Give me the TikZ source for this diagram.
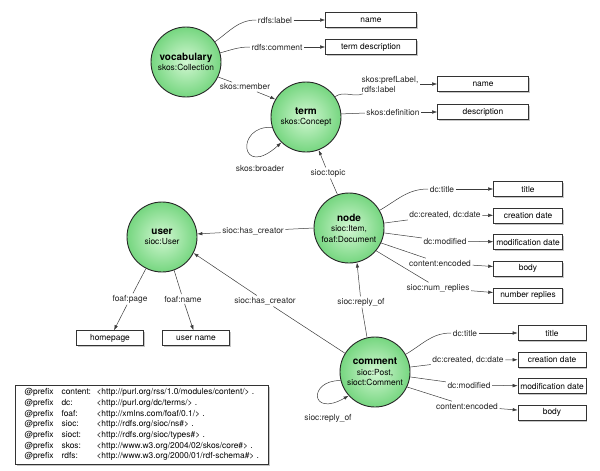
\documentclass[tikz,border=0pt]{standalone}
\usepackage{fontspec}
\setmainfont{TeX Gyre Heros}
\usetikzlibrary{positioning,arrows.meta,shadows}

\definecolor{classlight}{RGB}{210,247,210}
\definecolor{classgreen}{RGB}{118,214,128}
\definecolor{linkgray}{RGB}{60,60,60}

\begin{document}
\begin{tikzpicture}[x=1pt,y=1pt,
			font=\fontsize{8.4}{10}\selectfont,
			classnode/.style={circle, draw=black!85, line width=0.9pt, minimum size=70pt, inner sep=0pt, align=center,
				inner color=classlight, outer color=classgreen, font=\fontsize{8.4}{10.5}\selectfont},
			valnode/.style={rectangle, draw=black!80, fill=white, line width=0.6pt, minimum width=#1, minimum height=15pt,
				inner sep=1pt, drop shadow={shadow xshift=1.2pt, shadow yshift=-1.5pt, opacity=0.45}},
			valnode/.default=69pt,
			proplabel/.style={inner sep=1.5pt, text=black!85},
			link/.style={draw=linkgray, line width=0.5pt},
			arrowlink/.style={link, -{Latex[length=5pt,width=3.5pt]}},
			]
			\useasboundingbox (0,0) rectangle (600,-471);

			%Classes
			\node[classnode] (vocab)   at (186,-62)  {{\fontsize{10}{11}\selectfont\bfseries vocabulary}\\skos:Collection};
			\node[classnode] (term)    at (306,-117) {{\fontsize{10}{11}\selectfont\bfseries term}\\skos:Concept};
			\node[classnode] (item)    at (349,-228) {{\fontsize{10}{11}\selectfont\bfseries node}\\sioc:Item,\\foaf:Document};
			\node[classnode] (user)    at (162,-237) {{\fontsize{10}{11}\selectfont\bfseries user}\\sioc:User};
			\node[classnode] (comment) at (375,-372) {{\fontsize{10}{11}\selectfont\bfseries comment}\\sioc:Post,\\sioct:Comment};

			%Values
			\node[valnode=91pt] (vname) at (371,-20)  {name};
			\node[valnode=91pt] (vdesc) at (371,-47)  {term description};
			\node[valnode=91pt] (tname) at (483,-84)  {name};
			\node[valnode=91pt] (tdesc) at (483,-112) {description};

			\node[valnode] (ititle)    at (528,-189)          {title};
			\node[valnode] (icreated)  [below=11pt of ititle]   {creation date};
			\node[valnode] (imodified) [below=11pt of icreated] {modification date};
			\node[valnode] (ibody)     [below=11pt of imodified] {body};
			\node[valnode] (ireplies)  [below=11pt of ibody]    {number replies};

			\node[valnode=68pt] (ctitle)    at (552,-333)            {title};
			\node[valnode=68pt] (ccreated)  [below=11pt of ctitle]   {creation date};
			\node[valnode=68pt] (cmodified) [below=11pt of ccreated] {modification date};
			\node[valnode=68pt] (cbody)     [below=11pt of cmodified] {body};

			\node[valnode=67pt] (uhome) at (110,-338) {homepage};
			\node[valnode=67pt] (uname) at (196,-338) {user name};

			%Property labels
			\node[proplabel] (lvname)     at (275,-20)  {rdfs:label};
			\node[proplabel] (lvdesc)     at (277,-47)  {rdfs:comment};
			\node[proplabel] (lmember)    at (245,-87)  {skos:member};
			\node[proplabel, align=left] (ltname) at (390,-84) {skos:prefLabel,\\rdfs:label};
			\node[proplabel] (ltdesc)     at (393,-112) {skos:definition};
			\node[proplabel] (lbroader)   at (260,-168) {skos:broader};
			\node[proplabel] (ltopic)     at (328,-173) {sioc:topic};
			\node[proplabel] (licreator)  at (253,-231) {sioc:has\_creator};
			\node[proplabel] (lititle)    at (442,-189) {dc:title};
			\node[proplabel] (licreated)  at (445,-215) {dc:created, dc:date};
			\node[proplabel] (limodified) at (445,-241) {dc:modified};
			\node[proplabel] (libody)     at (440,-263) {content:encoded};
			\node[proplabel] (lireplies)  at (438,-288) {sioc:num\_replies};
			\node[proplabel] (lreply)     at (361,-302) {sioc:reply\_of};
			\node[proplabel] (lccreator)  at (265,-301) {sioc:has\_creator};
			\node[proplabel] (lpage)      at (130,-299) {foaf:page};
			\node[proplabel] (luname)     at (183,-299) {foaf:name};
			\node[proplabel] (lctitle)    at (465,-333) {dc:title};
			\node[proplabel] (lccreated)  at (468,-360) {dc:created, dc:date};
			\node[proplabel] (lcmodified) at (469,-385) {dc:modified};
			\node[proplabel] (lcbody)     at (467,-406) {content:encoded};
			\node[proplabel] (lcreply)    at (328,-418) {sioc:reply\_of};

			%Prefixes
			\node[draw=black!80, fill=white, line width=0.6pt, anchor=north west, minimum width=253pt, inner xsep=5pt, inner ysep=2pt,
				drop shadow={shadow xshift=1.2pt, shadow yshift=-1.5pt, opacity=0.45}] (prefixes) at (15,-385) {%
				\fontsize{8.4}{10.7}\selectfont\setlength\tabcolsep{0pt}%
				\begin{tabular}{p{37pt}p{35pt}l}
					@prefix & content: & <http://purl.org/rss/1.0/modules/content/> .\\
					@prefix & dc:      & <http://purl.org/dc/terms/> .\\
					@prefix & foaf:    & <http://xmlns.com/foaf/0.1/> .\\
					@prefix & sioc:    & <http://rdfs.org/sioc/ns\#> .\\
					@prefix & sioct:   & <http://rdfs.org/sioc/types\#> .\\
					@prefix & skos:    & <http://www.w3.org/2004/02/skos/core\#> .\\
					@prefix & rdfs:    & <http://www.w3.org/2000/01/rdf-schema\#> .
				\end{tabular}};

			%Vocabulary links
			\draw[link] (vocab) to[out=35,in=180] (lvname);
			\draw[arrowlink] (lvname) -- (vname);
			\draw[link] (vocab) to[out=15,in=180] (lvdesc);
			\draw[arrowlink] (lvdesc) -- (vdesc);
			\draw[link] (vocab.-25) -- (lmember);
			\draw[arrowlink] (lmember) -- (term.150);

			%Term links
			\draw[link] (term) to[out=35,in=200] (ltname);
			\draw[arrowlink] (ltname) -- (tname);
			\draw[link] (term.5) -- (ltdesc);
			\draw[arrowlink] (ltdesc) -- (tdesc);
			\draw[arrowlink] (term.197) .. controls (235,-125) and (240,-180) .. (term.226);

			%Node links
			\draw[link] (item.109) -- (ltopic);
			\draw[arrowlink] (ltopic) -- (term.291);
			\draw[link] (item.west) -- (licreator);
			\draw[arrowlink] (licreator) -- (user.5);
			\draw[link] (item) to[out=30,in=180] (lititle);
			\draw[arrowlink] (lititle) -- (ititle);
			\draw[link] (item.8) -- (licreated);
			\draw[arrowlink] (licreated) -- (icreated);
			\draw[link] (item.-8) -- (limodified);
			\draw[arrowlink] (limodified) -- (imodified);
			\draw[link] (item.-25) -- (libody);
			\draw[arrowlink] (libody) -- (ibody);
			\draw[link] (item.-40) -- (lireplies);
			\draw[arrowlink] (lireplies) -- (ireplies);

			%Comment links
			\draw[link] (comment.103) -- (lreply);
			\draw[arrowlink] (lreply) -- (item.283);
			\draw[link] (comment.148) -- (lccreator);
			\draw[arrowlink] (lccreator) -- (user.-27);
			\draw[link] (comment) to[out=30,in=180] (lctitle);
			\draw[arrowlink] (lctitle) -- (ctitle);
			\draw[link] (comment.8) -- (lccreated);
			\draw[arrowlink] (lccreated) -- (ccreated);
			\draw[link] (comment.-8) -- (lcmodified);
			\draw[arrowlink] (lcmodified) -- (cmodified);
			\draw[link] (comment.-25) -- (lcbody);
			\draw[arrowlink] (lcbody) -- (cbody);
			\draw[arrowlink] (comment.194) .. controls (308,-380) and (310,-418) .. (comment.222);

			%User links
			\draw[link] (user.243) -- (lpage);
			\draw[arrowlink] (lpage) -- (uhome);
			\draw[link] (user.290) -- (luname);
			\draw[arrowlink] (luname) -- (uname);
		\end{tikzpicture}
\end{document}
